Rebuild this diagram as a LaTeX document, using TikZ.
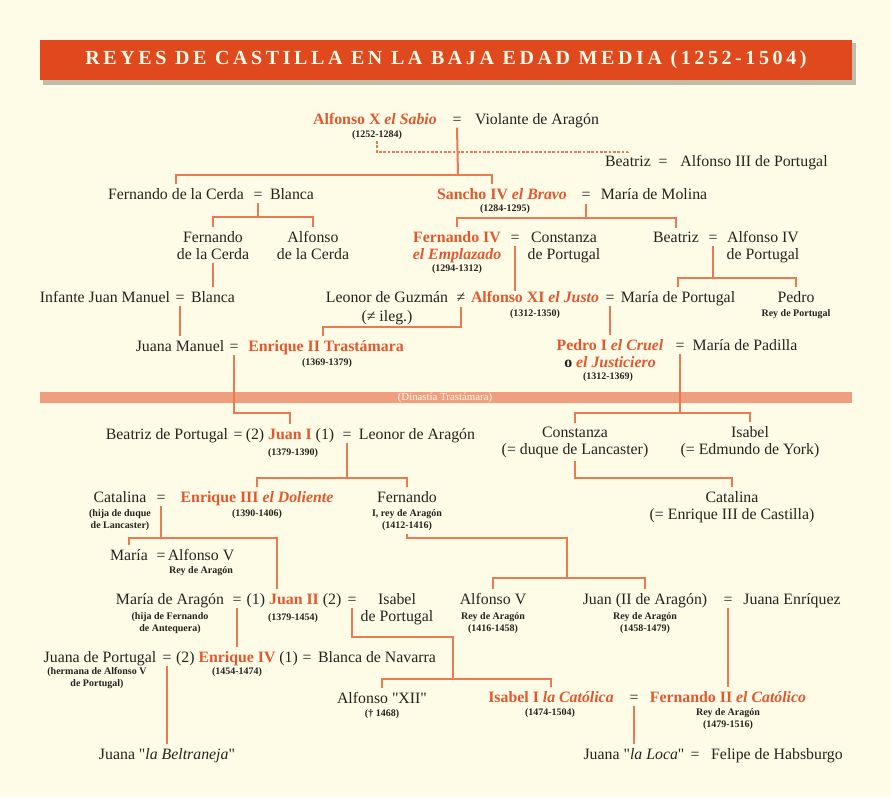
\documentclass[tikz,border=0pt]{standalone}
\usepackage{fontspec}
\setmainfont{Liberation Serif}
\newfontfamily\qfont{Liberation Serif}
\usepackage{tikz}
\usepackage{xcolor}
\definecolor{castRed}{RGB}{224,72,30}
\definecolor{kingRed}{RGB}{226,88,46}
\definecolor{linkRed}{RGB}{234,122,82}
\definecolor{barSalmon}{RGB}{240,158,128}
\definecolor{paper}{RGB}{254,251,231}
\definecolor{ink}{RGB}{38,34,30}
\newcommand{\dq}{{\qfont"}}

\begin{document}
\begin{tikzpicture}[x=0.6pt,y=-0.6pt,
    pers/.style={inner sep=0pt, anchor=base, align=center, text=ink, font=\fontsize{9.5}{10.2}\selectfont},
    king/.style={pers, text=kingRed, font=\fontsize{9.5}{10.2}\selectfont\bfseries},
    subtxt/.style={inner sep=0pt, anchor=base, align=center, text=ink, font=\fontsize{6}{7.2}\selectfont\bfseries},
    link/.style={draw=linkRed, line width=1.2pt},
    dlink/.style={draw=linkRed, line width=0.7pt, dash pattern=on 1.6pt off 1pt}]
                    \useasboundingbox (0,0) rectangle (891,797);
                    \fill[paper] (0,0) rectangle (891,797);

                    % Title
                    \fill[black, opacity=0.25] (43,43) rectangle (856,85);
                    \fill[castRed] (40,40) rectangle (852,80);
                    \node[inner sep=0pt, text=paper, font=\fontsize{12}{13}\selectfont\bfseries\addfontfeatures{LetterSpace=18}] (title) at (446,60) {REYES DE CASTILLA EN LA BAJA EDAD MEDIA (1252-1504)};

                    % Dinastia bar
                    \fill[barSalmon] (40,392) rectangle (852,403);
                    \node[inner sep=0pt, text=paper, font=\fontsize{6.5}{7}\selectfont] (dyn) at (445,397.5) {(Dinastía Trastámara)};

                    % Alfonso X
                    \node[king] (ax) at (375,124) {Alfonso X \textit{el Sabio}};
                    \node[subtxt] (axd) at (377,137) {(1252-1284)};
                    \node[pers] (eqAX) at (457,124) {=};
                    \node[pers] (violante) at (537,124) {Violante de Aragón};
                    \node[pers] (beaI) at (628,166) {Beatriz};
                    \node[pers] (eqB1) at (663,166) {=};
                    \node[pers] (alf3) at (754,166) {Alfonso III de Portugal};

                    % Sancho IV
                    \node[pers] (fcerda) at (176,199) {Fernando de la Cerda};
                    \node[pers] (eqFC) at (258,199) {=};
                    \node[pers] (blanca1) at (292,199) {Blanca};
                    \node[king] (sancho) at (502,199) {Sancho IV \textit{el Bravo}};
                    \node[subtxt] (sanchod) at (505,211) {(1284-1295)};
                    \node[pers] (eqS) at (586,199) {=};
                    \node[pers] (molina) at (654,199) {María de Molina};

                    % Fernando IV
                    \node[pers] (fc2) at (213,259) {Fernando\\de la Cerda};
                    \node[pers] (ac2) at (313,259) {Alfonso\\de la Cerda};
                    \node[king] (f4) at (457,259) {Fernando IV\\\textit{el Emplazado}};
                    \node[subtxt] (f4d) at (457,271) {(1294-1312)};
                    \node[pers] (eqF4) at (515,242) {=};
                    \node[pers] (const1) at (564,259) {Constanza\\de Portugal};
                    \node[pers] (beaII) at (676,242) {Beatriz};
                    \node[pers] (eqB2) at (713,242) {=};
                    \node[pers] (alf4) at (763,259) {Alfonso IV\\de Portugal};

                    % Alfonso XI
                    \node[pers] (ijm) at (105,302) {Infante Juan Manuel};
                    \node[pers] (eqJM) at (180,302) {=};
                    \node[pers] (blanca2) at (213,302) {Blanca};
                    \node[pers] (leonor) at (387,321) {Leonor de Guzmán\\[1pt](≠ ileg.)};
                    \node[pers] (neq) at (461,302) {≠};
                    \node[king] (a11) at (535,302) {Alfonso XI \textit{el Justo}};
                    \node[subtxt] (a11d) at (535,316) {(1312-1350)};
                    \node[pers] (eqA11) at (610,302) {=};
                    \node[pers] (mport) at (678,302) {María de Portugal};
                    \node[pers] (pedroP) at (796,302) {Pedro};
                    \node[subtxt] (pedroPd) at (796,316) {Rey de Portugal};

                    % Enrique II / Pedro I
                    \node[pers] (jmanuel) at (180,351) {Juana Manuel};
                    \node[pers] (eqJ) at (234,351) {=};
                    \node[king] (e2) at (326,351) {Enrique II Trastámara};
                    \node[subtxt] (e2d) at (327,365) {(1369-1379)};
                    \node[king] (p1) at (610,367) {Pedro I \textit{el Cruel}\\\textcolor{ink}{o} \textit{el Justiciero}};
                    \node[subtxt] (p1d) at (608,379) {(1312-1369)};
                    \node[pers] (eqP1) at (680,350) {=};
                    \node[pers] (padilla) at (745,350) {María de Padilla};

                    % Juan I
                    \node[pers] (beaP) at (167,439) {Beatriz de Portugal};
                    \node[pers] (eqJ1a) at (238,439) {=};
                    \node[pers] (j1) at (290,439) {(2) \textcolor{kingRed}{\bfseries Juan I} (1)};
                    \node[subtxt] (j1d) at (293,455) {(1379-1390)};
                    \node[pers] (eqJ1) at (347,439) {=};
                    \node[pers] (leonorA) at (417,439) {Leonor de Aragón};
                    \node[pers] (const2) at (575,454) {Constanza\\(= duque de Lancaster)};
                    \node[pers] (isabelY) at (750,454) {Isabel\\(= Edmundo de York)};

                    % Enrique III
                    \node[pers] (catalina) at (120,502) {Catalina};
                    \node[subtxt] (catalinad) at (120,528) {(hija de duque\\de Lancaster)};
                    \node[pers] (eqC) at (161,502) {=};
                    \node[king] (e3) at (257,502) {Enrique III \textit{el Doliente}};
                    \node[subtxt] (e3d) at (257,516) {(1390-1406)};
                    \node[pers] (fernA) at (407,502) {Fernando};
                    \node[subtxt] (fernAd) at (407,528) {I, rey de Aragón\\(1412-1416)};
                    \node[pers] (catalinaL) at (732,519) {Catalina\\(= Enrique III de Castilla)};

                    \node[pers] (maria) at (129,560) {María};
                    \node[pers] (eqM) at (161,560) {=};
                    \node[pers] (alfVa) at (201,560) {Alfonso V};
                    \node[subtxt] (alfVad) at (201,573) {Rey de Aragón};

                    % Juan II
                    \node[pers] (mAragon) at (170,604) {María de Aragón};
                    \node[subtxt] (mAragond) at (170,631) {(hija de Fernando\\de Antequera)};
                    \node[pers] (eqMA) at (237,604) {=};
                    \node[pers] (j2) at (294,604) {(1) \textcolor{kingRed}{\bfseries Juan II} (2)};
                    \node[subtxt] (j2d) at (293,620) {(1379-1454)};
                    \node[pers] (eqJ2) at (352,604) {=};
                    \node[pers] (isabelP) at (397,621) {Isabel\\de Portugal};
                    \node[pers] (alfVb) at (493,604) {Alfonso V};
                    \node[subtxt] (alfVbd) at (493,631) {Rey de Aragón\\(1416-1458)};
                    \node[pers] (juanA) at (645,604) {Juan (II de Aragón)};
                    \node[subtxt] (juanAd) at (645,631) {Rey de Aragón\\(1458-1479)};
                    \node[pers] (eqJA) at (728,604) {=};
                    \node[pers] (jEnr) at (792,604) {Juana Enríquez};

                    % Enrique IV
                    \node[pers] (jPort) at (100,662) {Juana de Portugal};
                    \node[subtxt] (jPortd) at (97,686) {(hermana de Alfonso V\\de Portugal)};
                    \node[pers] (eqJP) at (167,662) {=};
                    \node[pers] (e4) at (237,662) {(2) \textcolor{kingRed}{\bfseries Enrique IV} (1)};
                    \node[subtxt] (e4d) at (237,674) {(1454-1474)};
                    \node[pers] (eqE4) at (307,662) {=};
                    \node[pers] (bNav) at (377,662) {Blanca de Navarra};

                    % Reyes Catolicos
                    \node[pers] (alf12) at (382,703) {Alfonso \dq XII\dq};
                    \node[subtxt] (alf12d) at (382,716) {(† 1468)};
                    \node[king] (isa1) at (551,702) {Isabel I \textit{la Católica}};
                    \node[subtxt] (isa1d) at (550,715) {(1474-1504)};
                    \node[pers] (eqI) at (634,702) {=};
                    \node[king] (fer2) at (728,702) {Fernando II \textit{el Católico}};
                    \node[subtxt] (fer2d) at (728,727) {Rey de Aragón\\(1479-1516)};

                    \node[pers] (beltraneja) at (167,759) {Juana \dq\textit{la Beltraneja}\dq};
                    \node[pers] (loca) at (634,759) {Juana \dq\textit{la Loca}\dq};
                    \node[pers] (eqL) at (695,759) {=};
                    \node[pers] (felipe) at (777,759) {Felipe de Habsburgo};

                    % Links
                    \coordinate (barAX) at (458,175);
                    \draw[link] ([yshift=-2pt]eqAX.south) -- (barAX);
                    \draw[link] ([yshift=2pt]fcerda.north) |- (barAX) -| ([xshift=-6pt,yshift=2pt]sancho.north);
                    \coordinate (dbar) at (500,152);
                    \draw[dlink] ([yshift=-1pt]axd.south) |- (dbar) -| ([yshift=2pt]beaI.north);

                    \coordinate (barFC) at (258,217);
                    \draw[link] ([yshift=-2pt]eqFC.south) -- (barFC);
                    \draw[link] ([yshift=2pt]fc2.north) |- (barFC) -| ([yshift=2pt]ac2.north);
                    \coordinate (barS) at (586,218);
                    \draw[link] ([yshift=-3pt]eqS.south) -- (barS);
                    \draw[link] ([yshift=2pt]f4.north) |- (barS) -| ([yshift=2pt]beaII.north);

                    \draw[link] ([yshift=-2pt]eqF4.south) -- (eqF4.south |- a11.north);
                    \coordinate (barB2) at (713,278);
                    \draw[link] ([yshift=-2pt]eqB2.south) -- (barB2);
                    \draw[link] ([yshift=2pt]mport.north) |- (barB2) -| ([yshift=2pt]pedroP.north);

                    \draw[link] ([yshift=-2pt]fc2.south) -- ([yshift=2pt]blanca2.north);
                    \draw[link] ([yshift=-2pt]eqJM.south) -- ([yshift=2pt]jmanuel.north);
                    \coordinate (barL) at (461,327);
                    \draw[link] ([yshift=-3pt]neq.south) -- (barL) -| ([xshift=-2pt,yshift=2pt]e2.north);
                    \draw[link] ([yshift=-2pt]eqA11.south) -- ([yshift=2pt]p1.north);

                    \coordinate (barJ) at (234,413);
                    \draw[link] ([yshift=-2pt]eqJ.south) -- (barJ) -| ([yshift=2pt]j1.north);
                    \coordinate (barP) at (680,413);
                    \draw[link] ([yshift=-2pt]eqP1.south) -- (barP);
                    \draw[link] ([yshift=2pt]const2.north) |- (barP) -| ([yshift=2pt]isabelY.north);

                    \coordinate (barJ1) at (347,478);
                    \draw[link] ([yshift=-2pt]eqJ1.south) -- (barJ1);
                    \draw[link] ([yshift=2pt]e3.north) |- (barJ1) -| ([yshift=2pt]fernA.north);
                    \coordinate (barCL) at (650,478);
                    \draw[link] ([yshift=-2pt]const2.south) |- (barCL) -| ([yshift=2pt]catalinaL.north);

                    \coordinate (barC) at (161,538);
                    \draw[link] ([yshift=-2pt]eqC.south) -- (barC);
                    \draw[link] ([yshift=2pt]maria.north) |- (barC) -| ([xshift=-10pt,yshift=2pt]j2.north);
                    \coordinate (barF1) at (567,538);
                    \coordinate (barF2) at (567,578);
                    \draw[link] ([yshift=-2pt]fernAd.south) |- (barF1) -- (barF2);
                    \draw[link] ([yshift=2pt]alfVb.north) |- (barF2) -| ([yshift=2pt]juanA.north);

                    \draw[link] ([yshift=-2pt]eqMA.south) -- ([yshift=2pt]e4.north);
                    \coordinate (barJ2a) at (453,637);
                    \coordinate (barJ2b) at (453,679);
                    \draw[link] ([yshift=-2pt]eqJ2.south) |- (barJ2a) -- (barJ2b);
                    \draw[link] ([yshift=2pt]alf12.north) |- (barJ2b) -| ([yshift=2pt]isa1.north);
                    \draw[link] ([yshift=-2pt]eqJA.south) -- ([yshift=2pt]fer2.north);
                    \draw[link] ([yshift=-2pt]eqJP.south) -- ([yshift=2pt]beltraneja.north);
                    \draw[link] ([yshift=-2pt]eqI.south) -- ([yshift=2pt]loca.north);
\end{tikzpicture}
\end{document}
